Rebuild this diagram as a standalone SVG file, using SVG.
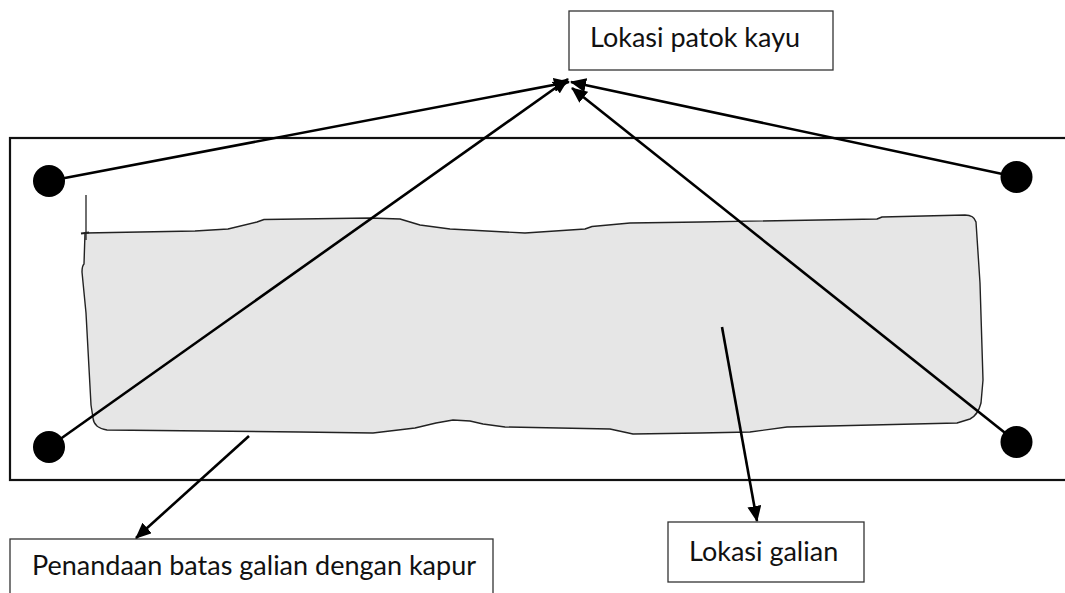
<svg xmlns="http://www.w3.org/2000/svg" width="1065" height="593" viewBox="0 0 1065 593">
  <defs>
    <marker id="arrow" markerUnits="userSpaceOnUse" markerWidth="16" markerHeight="14" viewBox="0 0 16 14" refX="15" refY="7" orient="auto">
      <path d="M0,0 L16,7 L0,14 Z" fill="#000"/>
    </marker>
    <style>
      .label { font-family: Lato, "Open Sans", "Liberation Sans", sans-serif; font-size: 27px; fill: #111; }
      .box { fill: #fff; stroke: #333; stroke-width: 1.3; }
      .site { fill: none; stroke: #111; stroke-width: 2.2; }
      .peg { fill: #000; }
      .link { stroke: #000; stroke-width: 2.6; fill: none; marker-end: url(#arrow); }
      .dig { fill: #e6e6e6; stroke: #222; stroke-width: 1.4; stroke-linejoin: round; }
    </style>
  </defs>

  <rect width="1065" height="593" fill="#fff"/>

  <!-- site boundary (runs off the right edge) -->
  <g id="site">
    <rect class="site" x="10" y="138" width="1080" height="342"/>
  </g>

  <!-- excavation area marked with lime -->
  <g id="excavation">
    <path class="dig" d="M85,233 L195,231 L228,229 L257,222 L264,219.5 L370,218 L400,219 L420,225 L450,229 L525,233 L585,229 L592,226.5 L630,223 L700,222 L877,219 L882,217 L965,215 Q974,215 976,222 L980,283 L983,380 L981,403 Q978,415 970,419 L957,423 L787,427 L750,432 L700,433 L633,434 L610,429 L505,427 L483,424 L470,421 L453,420 L436,423 L415,428 L373,433 L300,432 L107,430 Q94,428 93,418 L91,405 L86,313 L82,272 Q82,266 84,264 Z"/>
    <path d="M86,195 L86,240" stroke="#222" stroke-width="1.3" fill="none"/>
    <path d="M81,233.5 L89,232.5" stroke="#222" stroke-width="2" fill="none"/>
  </g>

  <!-- wooden pegs -->
  <g id="peg-tl"><circle class="peg" cx="49" cy="181" r="16"/></g>
  <g id="peg-tr"><circle class="peg" cx="1016.5" cy="177" r="16"/></g>
  <g id="peg-bl"><circle class="peg" cx="49" cy="447" r="16"/></g>
  <g id="peg-br"><circle class="peg" cx="1016.5" cy="442" r="16"/></g>

  <!-- labels -->
  <g id="label-peg">
    <rect class="box" x="569" y="11" width="264" height="59"/>
    <text class="label" x="590" y="47">Lokasi patok kayu</text>
  </g>
  <g id="label-dig">
    <rect class="box" x="668" y="522" width="196" height="60"/>
    <text class="label" x="689" y="561">Lokasi galian</text>
  </g>
  <g id="label-lime">
    <rect class="box" x="10" y="539" width="483" height="70"/>
    <text class="label" x="32" y="575">Penandaan batas galian dengan kapur</text>
  </g>

  <!-- connectors -->
  <g id="connectors">
    <line class="link" x1="49" y1="181" x2="569" y2="82"/>
    <line class="link" x1="1016.5" y1="177" x2="571" y2="82"/>
    <line class="link" x1="49" y1="447" x2="568" y2="79"/>
    <line class="link" x1="1016.5" y1="442" x2="572" y2="88"/>
    <line class="link" x1="722" y1="327" x2="757" y2="521"/>
    <line class="link" x1="249" y1="436" x2="136" y2="538"/>
  </g>
</svg>
